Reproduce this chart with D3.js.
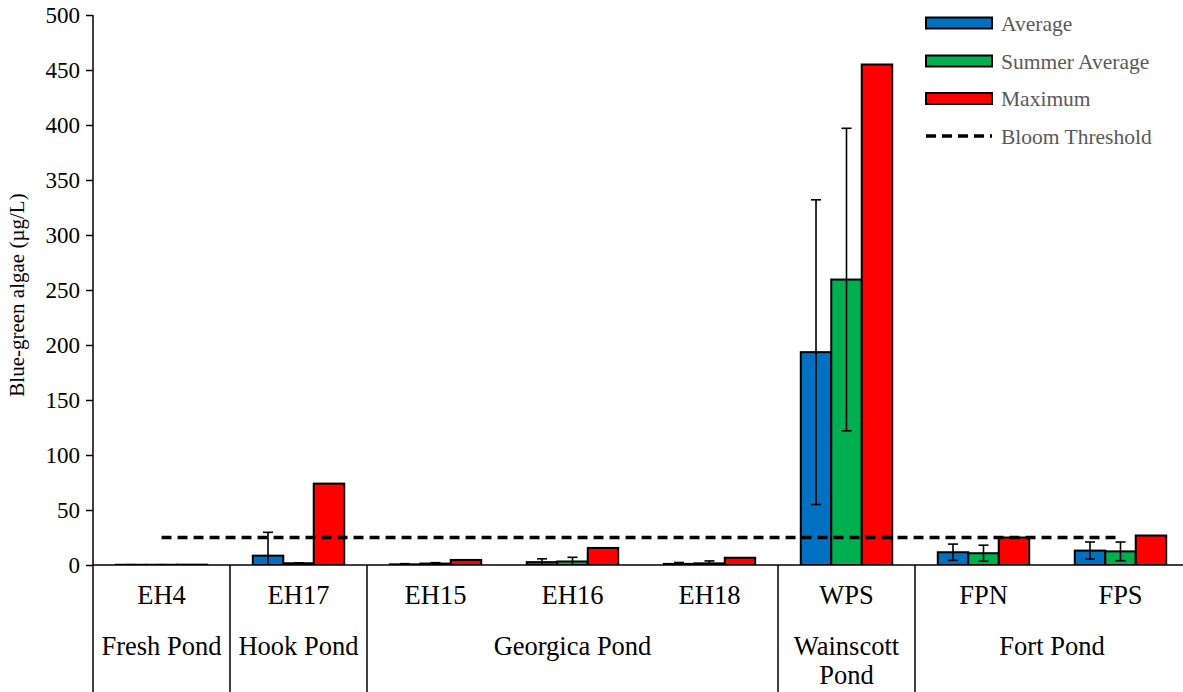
<!DOCTYPE html>
<html>
<head>
<meta charset="utf-8">
<script src="https://cdn.jsdelivr.net/npm/d3@7"></script>
<style>
  html, body { margin: 0; padding: 0; background: #fff; }
  svg { display: block; font-family: "Liberation Serif", "Times New Roman", serif; }
</style>
</head>
<body>
<svg id="chart" width="1183" height="692"></svg>
<script>
// Sampling sites, in axis order
const sites = ["EH4", "EH17", "EH15", "EH16", "EH18", "WPS", "FPN", "FPS"];
// Pond that each site belongs to
const ponds = [
  { name: ["Fresh Pond"], from: "EH4", to: "EH4" },
  { name: ["Hook Pond"], from: "EH17", to: "EH17" },
  { name: ["Georgica Pond"], from: "EH15", to: "EH18" },
  { name: ["Wainscott", "Pond"], from: "WPS", to: "WPS" },
  { name: ["Fort Pond"], from: "FPN", to: "FPS" }
];

const seriesNames = ["Average", "Summer Average", "Maximum"];
const seriesColors = ["#0070C0", "#00B050", "#FF0000"];

// Blue-green algae concentration (µg/L)
const average       = [0.2, 8.5, 0.6, 2.6, 1.0, 193.5, 11.6, 13.1];
const averageSD     = [0.1, 21.2, 0.6, 3.0, 1.3, 138.5, 7.4, 7.8];
const summerAverage = [0.2, 1.6, 1.3, 3.2, 1.5, 259.5, 10.7, 12.4];
const summerSD      = [0.1, 0.4, 0.8, 3.8, 2.2, 137.5, 7.3, 8.5];
const maximum       = [0.3, 74.0, 4.6, 15.5, 6.6, 455.0, 25.0, 26.8];
const bloomThreshold = 25;

const yTicks = [0, 50, 100, 150, 200, 250, 300, 350, 400, 450, 500];

const values = [average, summerAverage, maximum];
const errors = [averageSD, summerSD, null];

const svg = d3.select("#chart");
const W = 1183, H = 692;
const plotLeft = 93, plotTop = 15, plotBottom = 565;
const catWidth = 137;
const plotRight = plotLeft + catWidth * sites.length;

const x = d3.scaleBand().domain(sites).range([plotLeft, plotRight]).padding(0);
const barW = x.bandwidth() * 0.2225;
const groupOff = (x.bandwidth() - 3 * barW) / 2;
const xs = d3.scaleBand().domain(seriesNames)
  .range([groupOff, groupOff + 3 * barW]).padding(0);
const y = d3.scaleLinear().domain([0, 500]).range([plotBottom, plotTop]);

svg.append("defs").append("clipPath").attr("id", "plot-clip")
  .append("rect").attr("x", plotLeft).attr("y", plotTop - 5)
  .attr("width", plotRight - plotLeft).attr("height", plotBottom - plotTop + 5);

const plot = svg.append("g").attr("clip-path", "url(#plot-clip)");

// Bars
seriesNames.forEach((name, si) => {
  plot.append("g").selectAll("rect")
    .data(sites.map((s, i) => ({ site: s, v: values[si][i] })))
    .join("rect")
    .attr("x", d => x(d.site) + xs(name))
    .attr("y", d => y(d.v))
    .attr("width", xs.bandwidth())
    .attr("height", d => y(0) - y(d.v))
    .attr("fill", seriesColors[si])
    .attr("stroke", "#000")
    .attr("stroke-width", 2);
});

// Error bars (± standard deviation)
seriesNames.forEach((name, si) => {
  if (!errors[si]) return;
  const g = plot.append("g").attr("stroke", "#000").attr("stroke-width", 1.6);
  sites.forEach((s, i) => {
    const cx = x(s) + xs(name) + xs.bandwidth() / 2;
    const v = values[si][i], e = errors[si][i];
    const yHi = y(v + e), yLo = y(v - e);
    g.append("line").attr("x1", cx).attr("x2", cx).attr("y1", yHi).attr("y2", yLo);
    g.append("line").attr("x1", cx - 5).attr("x2", cx + 5).attr("y1", yHi).attr("y2", yHi);
    g.append("line").attr("x1", cx - 5).attr("x2", cx + 5).attr("y1", yLo).attr("y2", yLo);
  });
});

// Bloom threshold, drawn across the site centres
const line = d3.line().x(d => x(d) + x.bandwidth() / 2).y(() => y(bloomThreshold));
plot.append("path")
  .attr("d", line(sites))
  .attr("fill", "none")
  .attr("stroke", "#000")
  .attr("stroke-width", 3.5)
  .attr("stroke-dasharray", "10,6");

// Y axis
const yAxis = d3.axisLeft(y).tickValues(yTicks).tickSize(7).tickPadding(6).tickSizeOuter(0);
const ya = svg.append("g").attr("transform", `translate(${plotLeft},0)`).call(yAxis);
ya.select(".domain").remove();
ya.selectAll(".tick line").attr("stroke", "#000").attr("stroke-width", 1.5);
ya.selectAll(".tick text")
  .attr("font-family", "Liberation Serif, Times New Roman, serif")
  .attr("font-size", 23).attr("fill", "#000");
svg.append("line").attr("x1", plotLeft).attr("x2", plotLeft).attr("y1", plotTop).attr("y2", H)
  .attr("stroke", "#000").attr("stroke-width", 1.5);

// X axis baseline
svg.append("line").attr("x1", plotLeft).attr("x2", plotRight).attr("y1", plotBottom).attr("y2", plotBottom)
  .attr("stroke", "#000").attr("stroke-width", 1.5);

// Site labels
svg.append("g").selectAll("text").data(sites).join("text")
  .attr("x", d => x(d) + x.bandwidth() / 2)
  .attr("y", 604)
  .attr("text-anchor", "middle")
  .attr("font-size", 26.5)
  .attr("fill", "#000")
  .text(d => d);

// Pond labels and separators
ponds.forEach(p => {
  const x0 = x(p.from), x1 = x(p.to) + x.bandwidth();
  const t = svg.append("text")
    .attr("x", (x0 + x1) / 2).attr("y", 655)
    .attr("text-anchor", "middle").attr("font-size", 26.5).attr("fill", "#000");
  p.name.forEach((n, k) => {
    t.append("tspan").attr("x", (x0 + x1) / 2).attr("dy", k === 0 ? 0 : 29).text(n);
  });
  svg.append("line").attr("x1", x1).attr("x2", x1).attr("y1", plotBottom).attr("y2", H)
    .attr("stroke", "#000").attr("stroke-width", 1.5);
});

// Y axis title
svg.append("text")
  .attr("transform", `translate(24,${(plotTop + plotBottom) / 2 + 5}) rotate(-90)`)
  .attr("text-anchor", "middle")
  .attr("font-size", 21)
  .attr("fill", "#000")
  .text("Blue-green algae (µg/L)");

// Legend
const legend = svg.append("g");
const legendY = [23, 61, 98.5, 136];
seriesNames.forEach((name, si) => {
  legend.append("rect")
    .attr("x", 926).attr("y", legendY[si] - 5.5)
    .attr("width", 66).attr("height", 11)
    .attr("fill", seriesColors[si]).attr("stroke", "#000").attr("stroke-width", 2);
  legend.append("text")
    .attr("x", 1001).attr("y", legendY[si]).attr("dy", "0.35em")
    .attr("font-size", 21.5).attr("fill", "#595959").text(name);
});
legend.append("line")
  .attr("x1", 926).attr("x2", 992).attr("y1", legendY[3]).attr("y2", legendY[3])
  .attr("stroke", "#000").attr("stroke-width", 3.5).attr("stroke-dasharray", "10,6");
legend.append("text")
  .attr("x", 1001).attr("y", legendY[3]).attr("dy", "0.35em")
  .attr("font-size", 21.5).attr("fill", "#595959").text("Bloom Threshold");
</script>
</body>
</html>
